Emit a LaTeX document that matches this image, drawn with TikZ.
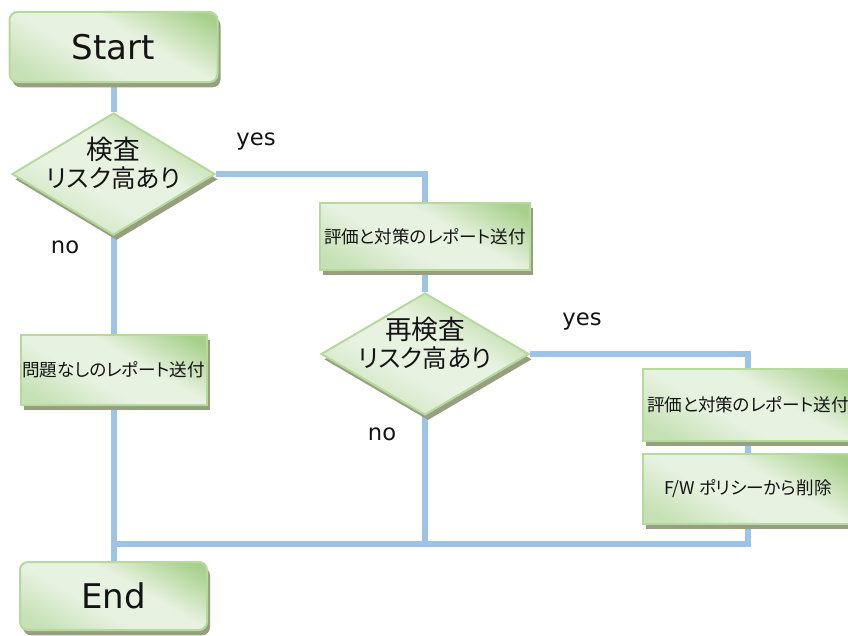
\documentclass[tikz,border=0pt]{standalone}
\usepackage{fontspec}
\newfontfamily\jp{Noto Sans CJK JP}[RawFeature=+palt]
\newfontfamily\lat{DejaVu Sans}
\usetikzlibrary{shapes.geometric,shadows,backgrounds,calc}
\definecolor{gDark}{RGB}{168,208,140}
\definecolor{gMid}{RGB}{198,225,181}
\definecolor{gLight}{RGB}{232,242,225}
\definecolor{gBorder}{RGB}{182,217,158}
\definecolor{shadowc}{RGB}{150,160,128}
\definecolor{lineblue}{RGB}{157,195,230}
\definecolor{txt}{RGB}{20,20,20}
\pgfdeclarehorizontalshading{gshade}{100bp}{color(0bp)=(gMid); color(22bp)=(gMid); color(42bp)=(gLight); color(58bp)=(gLight); color(80bp)=(gDark); color(100bp)=(gDark)}
\begin{document}
\begin{tikzpicture}[x=0.75pt,y=-0.75pt,
  gfill/.style={draw=gBorder, line width=1.5pt, shading=gshade, shading angle=60, text=txt,
    general shadow={fill=shadowc, shadow xshift=2.25pt, shadow yshift=-4pt}},
  termbox/.style={gfill, rounded corners=6pt, inner sep=0pt, font=\lat\fontsize{25.5}{30}\selectfont},
  procbox/.style={gfill, inner sep=0pt, font=\jp\fontsize{13.2}{16}\selectfont},
  decbox/.style={gfill, shape=diamond, inner sep=0pt},
  dtext/.style={font=\jp\fontsize{18.5}{21}\selectfont, align=center, inner sep=0pt, text=txt},
  ynlabel/.style={font=\lat\fontsize{17}{20}\selectfont, inner sep=0pt, text=txt},
  conn/.style={draw=lineblue, line width=4.5pt}
]
\useasboundingbox (0,0) rectangle (848,635);

\node[termbox, minimum width=156pt, minimum height=52.5pt] (start) at (113.5,47) {Start};
\node[decbox, minimum width=152.25pt, minimum height=91.5pt] (d1) at (113.5,174) {};
\node[dtext] (d1t) at (113.5,163) {{\fontsize{20}{21}\selectfont 検査}\\リスク高あり};
\node[procbox, minimum width=157.5pt, minimum height=50.25pt] (box1) at (425,236.5) {評価と対策のレポート送付};
\node[decbox, minimum width=156pt, minimum height=91.5pt] (d2) at (425,354) {};
\node[dtext] (d2t) at (425,343) {{\fontsize{20}{21}\selectfont 再検査}\\リスク高あり};
\node[procbox, minimum width=139.5pt, minimum height=52.5pt] (nobox) at (113.5,370) {問題なしのレポート送付};
\node[procbox, minimum width=157.5pt, minimum height=54pt] (box2) at (748,404.5) {評価と対策のレポート送付};
\node[procbox, minimum width=157.5pt, minimum height=52.5pt] (box3) at (748,489) {F/W ポリシーから削除};
\node[termbox, minimum width=140.25pt, minimum height=51pt] (endn) at (113.5,596) {End};

\node[ynlabel] (yes1) at (256,142) {yes};
\node[ynlabel] (no1) at (65,247) {no};
\node[ynlabel] (yes2) at (582,322) {yes};
\node[ynlabel] (no2) at (382,434) {no};

\coordinate (jr) at ($(box3.south)+(0,-14.25pt)$);

\begin{scope}[on background layer]
\draw[conn] (start.south) -- (d1.north);
\draw[conn] (d1.east) -| (box1.north);
\draw[conn] (box1.south) -- (d2.north);
\draw[conn] (d2.east) -| (box2.north);
\draw[conn] (box2.south) -- (box3.north);
\draw[conn] (d1.south) -- (nobox.north);
\draw[conn] (nobox.south) -- (endn.north);
\draw[conn] (box3.south) -- (jr) -- (jr -| nobox.south);
\draw[conn] (d2.south) -- (d2.south |- jr);
\end{scope}
\end{tikzpicture}
\end{document}
